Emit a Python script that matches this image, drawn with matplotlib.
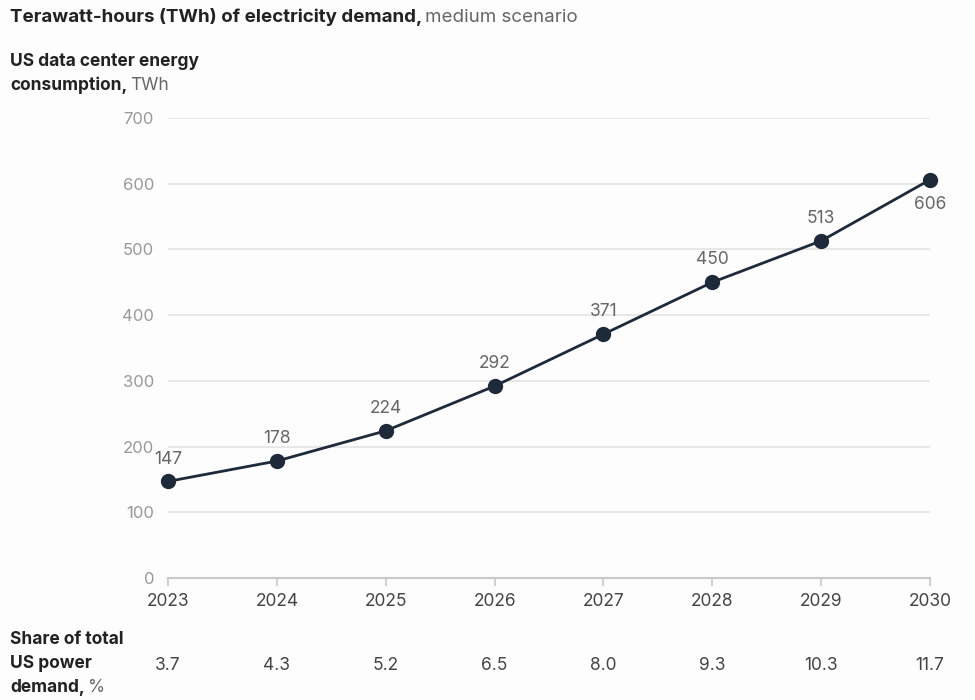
import matplotlib
matplotlib.use('Agg')
import matplotlib.pyplot as plt

years = [2023, 2024, 2025, 2026, 2027, 2028, 2029, 2030]
twh = [147, 178, 224, 292, 371, 450, 513, 606]
share = ['3.7', '4.3', '5.2', '6.5', '8.0', '9.3', '10.3', '11.7']
yticks = [0, 100, 200, 300, 400, 500, 600, 700]

plt.rcParams['font.family'] = ['Inter', 'DejaVu Sans']

navy = '#1e2939'
gray = '#666666'
dark = '#222222'

fig = plt.figure(figsize=(9.75, 7), dpi=100)
fig.patch.set_facecolor('#fdfdfd')
ax = fig.add_axes([168/975, 1-578/700, (930-168)/975, (578-118)/700])
ax.set_facecolor('none')

ax.plot(years, twh, color=navy, lw=2, marker='o', ms=10, clip_on=False, zorder=3)
for x, y in zip(years, twh):
    if x == years[-1]:
        ax.annotate(str(y), (x, y), xytext=(0, -12), textcoords='offset points',
                    ha='center', va='top', fontsize=12.5, color=gray)
    else:
        ax.annotate(str(y), (x, y), xytext=(0, 10), textcoords='offset points',
                    ha='center', va='bottom', fontsize=12.5, color=gray)

ax.set_xlim(years[0], years[-1])
ax.set_ylim(0, 700)
ax.set_yticks(yticks)
ax.set_xticks(years)
ax.set_xticklabels([str(y) for y in years])
ax.grid(axis='y', color='#e3e3e3', lw=1.2)
ax.set_axisbelow(True)
for s in ['top', 'right', 'left']:
    ax.spines[s].set_visible(False)
ax.spines['bottom'].set_color('#c8c8c8')
ax.spines['bottom'].set_linewidth(1.5)
ax.tick_params(axis='y', length=0, pad=10, labelsize=12, labelcolor='#999999')
ax.tick_params(axis='x', length=6, width=1.2, color='#c8c8c8', pad=5,
               labelsize=12.5, labelcolor='#444444')

# share row under the x axis (offset in points: 87 px at 100 dpi)
for x, s in zip(years, share):
    ax.annotate(s, (x, 0), xycoords=('data', 'axes fraction'), xytext=(0, -87*0.72),
                textcoords='offset points', ha='center', va='center',
                fontsize=12.5, color='#444444')


def mixed(xpx, ypx, parts, size):
    # draws bold + regular pieces side by side, in pixel coords from top left
    r = fig.canvas.get_renderer()
    x = xpx / 975
    for txt, weight, col in parts:
        t = fig.text(x, 1 - ypx/700, txt, fontsize=size, fontweight=weight,
                     color=col, va='center', ha='left')
        bb = t.get_window_extent(renderer=r)
        x = (bb.x1 + 3) / 975


mixed(10, 17, [('Terawatt-hours (TWh) of electricity demand,', 'bold', dark),
               ('medium scenario', 'normal', gray)], 13.5)
mixed(10, 61, [('US data center energy', 'bold', dark)], 12.5)
mixed(10, 85, [('consumption,', 'bold', dark), ('TWh', 'normal', gray)], 12.5)
mixed(10, 639, [('Share of total', 'bold', dark)], 12.5)
mixed(10, 663, [('US power', 'bold', dark)], 12.5)
mixed(10, 687, [('demand,', 'bold', dark), ('%', 'normal', gray)], 12.5)

plt.savefig('out.png', dpi=100, facecolor=fig.get_facecolor())
